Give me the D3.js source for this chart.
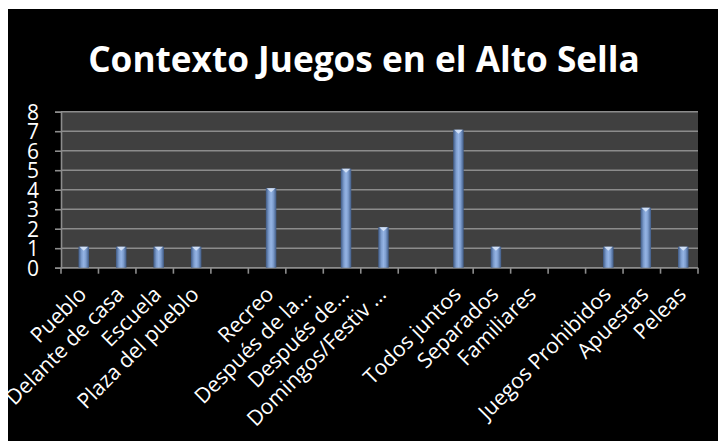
<!DOCTYPE html>
<html>
<head>
<meta charset="utf-8">
<script src="https://cdn.jsdelivr.net/npm/d3@7"></script>
<style>
html,body{margin:0;padding:0;background:#fff;}
svg{display:block;}
</style>
</head>
<body>
<div id="chart"></div>
<script>
const categories = ["Pueblo","Delante de casa","Escuela","Plaza del pueblo","","Recreo","Después de la…","Después de…","Domingos/Festiv …","","Todos juntos","Separados","Familiares","","Juegos Prohibidos","Apuestas","Peleas"];
const values = [1,1,1,1,0,4,0,5,2,0,7,1,0,0,1,3,1];
const yTicks = [0,1,2,3,4,5,6,7,8];
const title = "Contexto Juegos en el Alto Sella";

const W = 718, H = 441;
const FONT = "'Open Sans', sans-serif";
const svg = d3.select("#chart").append("svg").attr("width", W).attr("height", H);

// frame
svg.append("rect").attr("x",8).attr("y",9).attr("width",W-8).attr("height",H-9).attr("fill","#000");

const plot = {left:61, right:698, top:111.7, bottom:267.7};

const x = d3.scaleBand().domain(d3.range(categories.length)).range([plot.left, plot.right]).padding(0);
const y = d3.scaleLinear().domain([0,8]).range([plot.bottom, plot.top]);

const defs = svg.append("defs");
const grad = defs.append("linearGradient").attr("id","barGrad").attr("x1","0").attr("x2","1").attr("y1","0").attr("y2","0");
grad.append("stop").attr("offset","0%").attr("stop-color","#3f5a85");
grad.append("stop").attr("offset","30%").attr("stop-color","#7f9fd0");
grad.append("stop").attr("offset","50%").attr("stop-color","#95b4e4");
grad.append("stop").attr("offset","70%").attr("stop-color","#7f9fd0");
grad.append("stop").attr("offset","100%").attr("stop-color","#3f5a85");

// plot bg
svg.append("rect").attr("x",plot.left).attr("y",plot.top).attr("width",plot.right-plot.left).attr("height",plot.bottom-plot.top).attr("fill","#404040");

// gridlines
svg.append("g").selectAll("line").data(yTicks).join("line")
  .attr("x1",plot.left).attr("x2",plot.right)
  .attr("y1",d=>y(d)).attr("y2",d=>y(d))
  .attr("stroke","#8c8c8c").attr("stroke-width",1.6);

// y axis
const yAxis = svg.append("g").attr("transform",`translate(${plot.left},0)`)
  .call(d3.axisLeft(y).tickValues(yTicks).tickSize(6).tickPadding(16).tickFormat(d3.format("d")));
yAxis.select(".domain").attr("stroke","#8c8c8c").attr("stroke-width",1.6);
yAxis.selectAll(".tick line").attr("stroke","#8c8c8c").attr("stroke-width",1.6);
yAxis.selectAll("text").attr("fill","#fff").attr("font-family",FONT).attr("font-size",21).attr("dy","0.36em");

// x axis
const xb = d3.scaleLinear().domain([0,categories.length]).range([plot.left, plot.right]);
const xAxisG = svg.append("g");
xAxisG.append("line").attr("x1",plot.left).attr("x2",plot.right).attr("y1",plot.bottom).attr("y2",plot.bottom).attr("stroke","#8c8c8c").attr("stroke-width",1.6);
xAxisG.selectAll(".xt").data(d3.range(categories.length+1)).join("line").attr("class","xt")
  .attr("x1",d=>xb(d)).attr("x2",d=>xb(d)).attr("y1",plot.bottom).attr("y2",plot.bottom+6)
  .attr("stroke","#8c8c8c").attr("stroke-width",1.6);

// bars
const bw = 10.5, shift = 4;
const bars = svg.append("g");
const data = values.map((v,i)=>({v,i})).filter(d=>d.v>0);
bars.selectAll("rect").data(data).join("rect")
  .attr("x",d=>x(d.i)+x.bandwidth()/2+shift-bw/2)
  .attr("y",d=>y(d.v)-1.5)
  .attr("width",bw)
  .attr("height",d=>plot.bottom-y(d.v)+1.5)
  .attr("fill","url(#barGrad)");
bars.selectAll("path").data(data).join("path")
  .attr("d",d=>{const cx=x(d.i)+x.bandwidth()/2+shift, ty=y(d.v)-1.5; return `M${cx-bw/2+1},${ty} L${cx+bw/2-1},${ty} L${cx},${ty+4} Z`;})
  .attr("fill","#d8e6fa").attr("opacity",0.9);

// x labels
const lab = svg.append("g");
const xl = lab.selectAll("text").data(categories).join("text")
  .attr("text-anchor","end")
  .attr("fill","#fff").attr("font-family",FONT)
  .attr("font-size",18)
  .attr("transform",(d,i)=>`translate(${x(i)+x.bandwidth()/2+8},${plot.bottom+28}) rotate(-45)`)
  .text(d=>d);
const ref = xl.filter(d=>d==="Juegos Prohibidos").node();
const len = ref.getComputedTextLength();
const fs = 18*177/len;
xl.attr("font-size",fs);

// title
const t = svg.append("text").attr("x",364).attr("y",72).attr("text-anchor","middle")
  .attr("fill","#fff").attr("font-family",FONT).attr("font-weight","bold").attr("font-size",36).text(title);
const tl = t.node().getComputedTextLength();
t.attr("font-size",36*552/tl);
</script>
</body>
</html>
